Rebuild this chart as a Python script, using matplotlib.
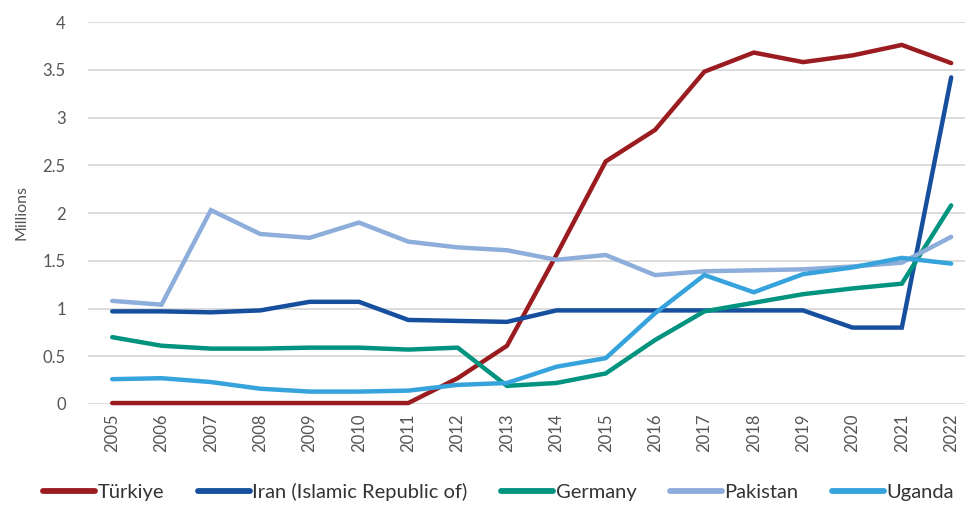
import matplotlib
matplotlib.use("Agg")
import matplotlib.pyplot as plt

plt.rcParams['font.family'] = ['Lato', 'DejaVu Sans']

years = list(range(2005, 2023))

turkiye = [0.01, 0.01, 0.01, 0.01, 0.01, 0.01, 0.01, 0.27, 0.61, 1.56, 2.54, 2.87,
           3.48, 3.68, 3.58, 3.65, 3.76, 3.57]
iran = [0.97, 0.97, 0.96, 0.98, 1.07, 1.07, 0.88, 0.87, 0.86, 0.98, 0.98, 0.98,
        0.98, 0.98, 0.98, 0.80, 0.80, 3.42]
germany = [0.70, 0.61, 0.58, 0.58, 0.59, 0.59, 0.57, 0.59, 0.19, 0.22, 0.32, 0.67,
           0.97, 1.06, 1.15, 1.21, 1.26, 2.08]
pakistan = [1.08, 1.04, 2.03, 1.78, 1.74, 1.90, 1.70, 1.64, 1.61, 1.51, 1.56, 1.35,
            1.39, 1.40, 1.41, 1.44, 1.48, 1.75]
uganda = [0.26, 0.27, 0.23, 0.16, 0.13, 0.13, 0.14, 0.20, 0.22, 0.39, 0.48, 0.95,
          1.35, 1.17, 1.36, 1.43, 1.53, 1.47]

names = ['Türkiye', 'Iran (Islamic Republic of)', 'Germany', 'Pakistan', 'Uganda']
colors = ['#9b1c20', '#174f9f', '#009480', '#8dadda', '#36a3dc']
series = [turkiye, iran, germany, pakistan, uganda]

fig = plt.figure(figsize=(9.68, 5.13), dpi=100)
ax = fig.add_axes([88 / 968, 109 / 513, 877 / 968, 382 / 513])

for vals, name, col in zip(series, names, colors):
    ax.plot(years, vals, color=col, lw=3.2, label=name, solid_capstyle='round',
            solid_joinstyle='miter', clip_on=False, zorder=3)

ax.set_ylim(0, 4)
ax.set_xlim(2004.51, 2022.28)
ax.set_yticks([0, 0.5, 1, 1.5, 2, 2.5, 3, 3.5, 4])
ax.set_yticklabels(['0', '0.5', '1', '1.5', '2', '2.5', '3', '3.5', '4'])
ax.set_xticks(years)
ax.set_xticklabels([str(y) for y in years], rotation=90)
ax.tick_params(length=0, labelsize=12, labelcolor='#555555', pad=7)
ax.tick_params(axis='y', pad=16)
ax.grid(axis='y', color='#d9d9d9', lw=1.3)
ax.set_axisbelow(True)
for s in ax.spines.values():
    s.set_visible(False)

ax.set_ylabel('Millions', fontsize=11.5, color='#555555', labelpad=10)

leg = fig.legend(loc='lower center', bbox_to_anchor=(0.515, -0.012), ncol=5, frameon=False,
                 fontsize=14.5, handlelength=2.6, handletextpad=0.12, columnspacing=1.65,
                 labelcolor='#333333')
for h in leg.legend_handles:
    h.set_linewidth(4.2)

fig.savefig('out.png', dpi=100)
